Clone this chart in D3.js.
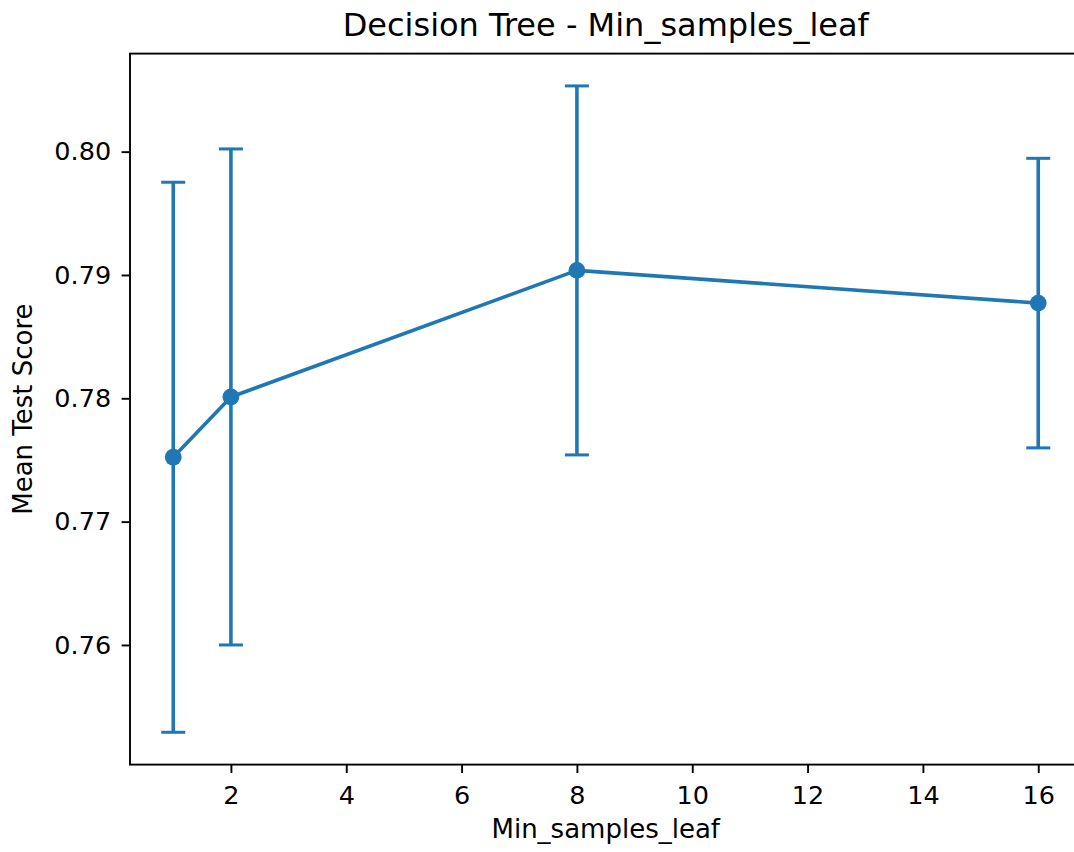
<!DOCTYPE html>
<html>
<head>
<meta charset="utf-8">
<script src="https://cdn.jsdelivr.net/npm/d3@7"></script>
<style>
  html, body { margin: 0; padding: 0; background: #fff; overflow: hidden; }
  svg { display: block; }
  text { font-family: "DejaVu Sans", sans-serif; fill: #000; }
</style>
</head>
<body>
<svg id="chart" width="1074" height="852"></svg>
<script>
// Grid-search results for min_samples_leaf
const leafSizes = [1, 2, 8, 16];
const meanScores = [0.77522, 0.78011, 0.79037, 0.78772];
const stdScores = [0.02230, 0.02011, 0.01496, 0.01174];
const xTicks = [2, 4, 6, 8, 10, 12, 14, 16];
const yTicks = [0.76, 0.77, 0.78, 0.79, 0.80];

const titleText = "Decision Tree - Min_samples_leaf";
const xLabel = "Min_samples_leaf";
const yLabel = "Mean Test Score";

const color = "#1f77b4";
const plot = { left: 130, right: 1081.5, top: 53.6, bottom: 764.6 };

const svg = d3.select("#chart");

// Data limits padded by 5% on each side
function padded(lo, hi) {
  const m = (hi - lo) * 0.05;
  return [lo - m, hi + m];
}
const xDom = padded(d3.min(leafSizes), d3.max(leafSizes));
const lows = meanScores.map((m, i) => m - stdScores[i]);
const highs = meanScores.map((m, i) => m + stdScores[i]);
const yDom = padded(d3.min(lows), d3.max(highs));

const x = d3.scaleLinear().domain(xDom).range([plot.left, plot.right]);
const y = d3.scaleLinear().domain(yDom).range([plot.bottom, plot.top]);

const data = leafSizes.map((k, i) => ({ k, m: meanScores[i], lo: lows[i], hi: highs[i] }));

// Axes frame
svg.append("rect")
  .attr("x", plot.left).attr("y", plot.top)
  .attr("width", plot.right - plot.left).attr("height", plot.bottom - plot.top)
  .attr("fill", "none").attr("stroke", "#000").attr("stroke-width", 1.9);

// Error bars
const eb = svg.append("g").attr("stroke", color).attr("fill", "none");
eb.selectAll("line.bar").data(data).join("line")
  .attr("class", "bar")
  .attr("x1", d => x(d.k)).attr("x2", d => x(d.k))
  .attr("y1", d => y(d.lo)).attr("y2", d => y(d.hi))
  .attr("stroke-width", 3.6);
const capHalf = 12;
["lo", "hi"].forEach(key => {
  eb.selectAll("line.cap-" + key).data(data).join("line")
    .attr("class", "cap-" + key)
    .attr("x1", d => x(d.k) - capHalf).attr("x2", d => x(d.k) + capHalf)
    .attr("y1", d => y(d[key])).attr("y2", d => y(d[key]))
    .attr("stroke-width", 3);
});

// Mean line and markers
svg.append("path")
  .datum(data)
  .attr("fill", "none")
  .attr("stroke", color)
  .attr("stroke-width", 3.6)
  .attr("stroke-linejoin", "round")
  .attr("d", d3.line().x(d => x(d.k)).y(d => y(d.m)));

svg.append("g").selectAll("circle").data(data).join("circle")
  .attr("cx", d => x(d.k)).attr("cy", d => y(d.m))
  .attr("r", 8.4)
  .attr("fill", color);

// Axes
const tickFont = 25.5;
const xAxis = svg.append("g")
  .attr("transform", `translate(0,${plot.bottom})`)
  .call(d3.axisBottom(x).tickValues(xTicks).tickFormat(d3.format("d"))
    .tickSize(8.4).tickSizeOuter(0).tickPadding(12.5));
const yAxis = svg.append("g")
  .attr("transform", `translate(${plot.left},0)`)
  .call(d3.axisLeft(y).tickValues(yTicks).tickFormat(d3.format(".2f"))
    .tickSize(8.4).tickSizeOuter(0).tickPadding(10.5));

[xAxis, yAxis].forEach(g => {
  g.select(".domain").remove();
  g.selectAll(".tick line").attr("stroke", "#000").attr("stroke-width", 1.9);
  g.selectAll(".tick text")
    .attr("font-family", "DejaVu Sans, sans-serif")
    .attr("font-size", tickFont).attr("fill", "#000");
});

// Title and axis labels
svg.append("text")
  .attr("x", (plot.left + plot.right) / 2).attr("y", 36)
  .attr("text-anchor", "middle")
  .attr("font-size", 32)
  .text(titleText);

svg.append("text")
  .attr("x", (plot.left + plot.right) / 2).attr("y", 838)
  .attr("text-anchor", "middle")
  .attr("font-size", 26)
  .text(xLabel);

svg.append("text")
  .attr("transform", `translate(32,${(plot.top + plot.bottom) / 2}) rotate(-90)`)
  .attr("text-anchor", "middle")
  .attr("font-size", 26)
  .text(yLabel);
</script>
</body>
</html>
